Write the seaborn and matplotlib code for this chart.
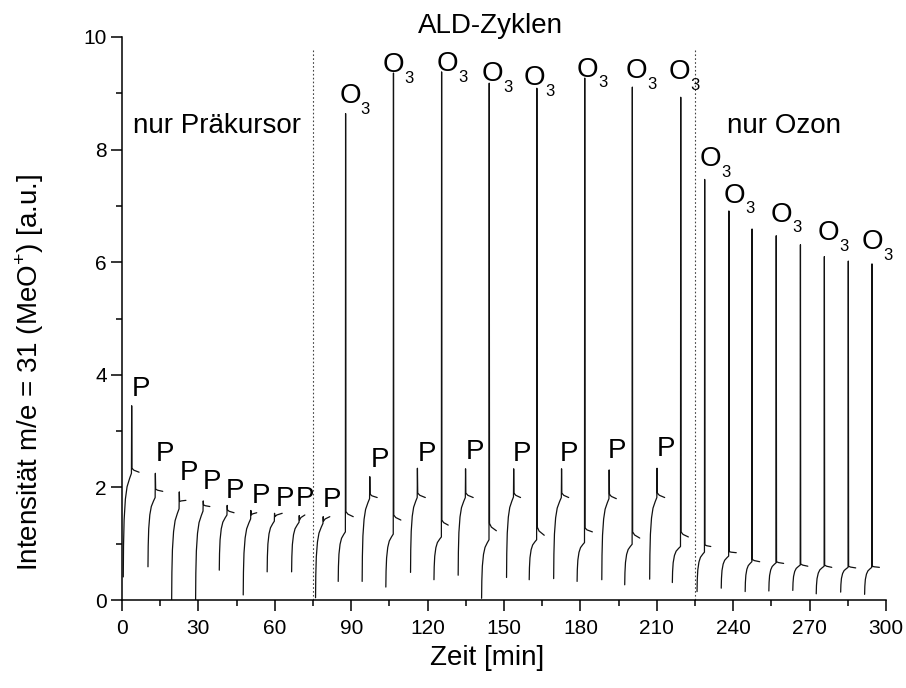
import numpy as np
import pandas as pd
import matplotlib
matplotlib.use("Agg")
import matplotlib.pyplot as plt
import seaborn as sns
from matplotlib.ticker import MultipleLocator

# ---------------- data ----------------
# Precursor pulse segments: start time/value, spike time, base before spike,
# spike peak, level after spike, end time/value  (time in min, intensity in a.u.)
P_T0 = [0.5, 10.2, 19.5, 28.9, 38.2, 47.6, 57.0, 66.6, 76.0, 94.3, 113.3, 132.0, 151.0, 169.5, 188.4, 207.2]
P_V0 = [0.41, 0.59, 0.0, 0.0, 0.53, 0.09, 0.50, 0.50, 0.04, 0.33, 0.49, 0.44, 0.40, 0.38, 0.36, 0.37]
P_TP = [3.8, 13.1, 22.5, 31.9, 41.3, 50.6, 59.9, 69.6, 79.0, 97.3, 116.0, 134.9, 153.8, 172.6, 191.3, 210.1]
P_VB = [2.25, 1.82, 1.62, 1.58, 1.51, 1.44, 1.40, 1.38, 1.36, 1.80, 1.82, 1.82, 1.83, 1.82, 1.80, 1.82]
P_VP = [3.45, 2.25, 1.92, 1.76, 1.68, 1.59, 1.54, 1.50, 1.48, 2.19, 2.34, 2.33, 2.33, 2.33, 2.31, 2.34]
P_VA = [2.34, 1.97, 1.75, 1.69, 1.60, 1.51, 1.48, 1.42, 1.40, 1.88, 1.90, 1.90, 1.90, 1.90, 1.88, 1.90]
P_TE = [6.7, 16.0, 25.1, 34.5, 44.0, 52.9, 62.9, 71.8, 81.6, 100.2, 119.1, 137.9, 156.5, 175.4, 194.1, 213.1]
P_VE = [2.27, 1.93, 1.77, 1.66, 1.55, 1.55, 1.54, 1.51, 1.48, 1.82, 1.82, 1.82, 1.82, 1.82, 1.80, 1.82]

# Ozone pulse segments
O3_T0 = [84.9, 103.6, 122.5, 141.2, 159.9, 178.7, 197.4, 216.1, 225.8, 235.3, 244.7, 254.0, 263.4, 272.6, 282.2, 291.6]
O3_V0 = [0.33, 0.23, 0.36, 0.03, 0.36, 0.33, 0.27, 0.31, 0.15, 0.21, 0.15, 0.16, 0.17, 0.11, 0.14, 0.10]
O3_TP = [87.8, 106.6, 125.5, 144.2, 162.9, 181.7, 200.4, 219.4, 228.8, 238.3, 247.4, 256.9, 266.4, 275.8, 285.2, 294.5]
O3_VB = [1.21, 1.17, 1.12, 1.07, 1.07, 1.02, 0.99, 0.95, 0.85, 0.78, 0.68, 0.66, 0.62, 0.60, 0.58, 0.58]
O3_VP = [8.64, 9.36, 9.38, 9.18, 9.09, 9.27, 9.11, 8.93, 7.47, 6.91, 6.59, 6.47, 6.31, 6.10, 6.02, 5.97]
O3_VA = [1.57, 1.51, 1.42, 1.36, 1.30, 1.28, 1.21, 1.21, 0.98, 0.86, 0.72, 0.68, 0.64, 0.62, 0.60, 0.60]
O3_TE = [90.8, 109.5, 128.1, 147.0, 165.8, 184.7, 203.3, 222.4, 231.2, 241.2, 250.4, 259.8, 269.3, 278.7, 288.1, 297.4]
O3_VE = [1.48, 1.42, 1.33, 1.23, 1.15, 1.21, 1.10, 1.12, 0.95, 0.84, 0.68, 0.65, 0.60, 0.58, 0.57, 0.58]

# Shape of the saturating rise and of the hook after each spike (read from one segment)
RISE_TF = [0.0, 0.03, 0.10, 0.25, 0.45, 0.75, 0.97]
RISE_VF = [0.0, 0.30, 0.55, 0.75, 0.87, 0.95, 1.00]
HOOK_TF = [0.04, 0.30, 1.00]
HOOK_VF = [0.00, 0.50, 1.00]

# Peak labels (left edge, baseline)
P_LABEL_T = [3.8, 13.2, 22.5, 31.7, 40.7, 50.9, 60.3, 68.2, 79.0, 97.7, 116.3, 134.9, 153.3, 171.9, 190.9, 209.9]
P_LABEL_V = [3.63, 2.47, 2.14, 1.97, 1.82, 1.72, 1.67, 1.67, 1.65, 2.36, 2.47, 2.51, 2.47, 2.47, 2.52, 2.56]
O3_LABEL_T = [85.3, 102.3, 123.5, 141.2, 157.8, 178.4, 197.8, 214.7, 226.8, 236.3, 254.6, 273.3, 290.3]
O3_LABEL_V = [8.82, 9.37, 9.39, 9.21, 9.14, 9.29, 9.27, 9.25, 7.70, 7.06, 6.72, 6.39, 6.23]

PHASE_BOUNDS = [75, 225]
PHASE_TEXT = ["nur Präkursor", "ALD-Zyklen", "nur Ozon"]

# ---------------- build long table ----------------
rows = []
seg = 0
for (T0, V0, TP, VB, VP, VA, TE, VE) in [
    (P_T0, P_V0, P_TP, P_VB, P_VP, P_VA, P_TE, P_VE),
    (O3_T0, O3_V0, O3_TP, O3_VB, O3_VP, O3_VA, O3_TE, O3_VE),
]:
    for i in range(len(T0)):
        t0, v0, tp, vb, vp, va, te, ve = T0[i], V0[i], TP[i], VB[i], VP[i], VA[i], TE[i], VE[i]
        ts = [t0 + f * (tp - t0) for f in RISE_TF] + [tp] + [tp + f * (te - tp) for f in HOOK_TF]
        vs = [v0 + f * (vb - v0) for f in RISE_VF] + [vp] + [va + f * (ve - va) for f in HOOK_VF]
        for k, (t, v) in enumerate(zip(ts, vs)):
            rows.append({"t": t, "v": v, "seg": seg, "k": k})
        seg += 1
df = pd.DataFrame(rows)

# ---------------- plot ----------------
sns.set_theme(style="ticks")
FONT = ["Liberation Sans", "DejaVu Sans"]
plt.rcParams["font.family"] = FONT
plt.rcParams["mathtext.fontset"] = "custom"
plt.rcParams["mathtext.rm"] = "Liberation Sans"
for key in ["text.color", "axes.labelcolor", "xtick.color", "ytick.color", "axes.edgecolor"]:
    plt.rcParams[key] = "black"

fig = plt.figure(figsize=(9.06, 6.88), dpi=100)
ax = fig.add_axes([122 / 906, 1 - 600 / 688, 764 / 906, 563 / 688])

sns.lineplot(data=df, x="t", y="v", units="seg", estimator=None, sort=False,
             color="#111111", lw=0.9, ax=ax, legend=False)

for b in PHASE_BOUNDS:
    ax.vlines(b, 0, 9.8, colors="#444444", linestyles=(0, (1.5, 2.0)), lw=0.8)

for t, v in zip(P_LABEL_T, P_LABEL_V):
    ax.text(t, v, "P", fontsize=20, ha="left", va="baseline", color="black")
for t, v in zip(O3_LABEL_T, O3_LABEL_V):
    ax.text(t, v, "O", fontsize=20, ha="left", va="baseline", color="black")
    ax.annotate("3", xy=(t, v), xytext=(15.5, -7.5), textcoords="offset points",
                fontsize=12, ha="left", va="baseline", color="black")

ax.text(4.3, 8.30, PHASE_TEXT[0], fontsize=20, ha="left", va="baseline")
ax.text(144.7, 10.07, PHASE_TEXT[1], fontsize=20, ha="center", va="baseline", clip_on=False)
ax.text(237.5, 8.30, PHASE_TEXT[2], fontsize=20, ha="left", va="baseline")

ax.set_xlim(0, 300)
ax.set_ylim(0, 10)
ax.xaxis.set_major_locator(MultipleLocator(30))
ax.xaxis.set_minor_locator(MultipleLocator(15))
ax.yaxis.set_major_locator(MultipleLocator(2))
ax.yaxis.set_minor_locator(MultipleLocator(1))
ax.tick_params(which="major", direction="out", length=8, width=1.1, labelsize=15, color="black",
               labelcolor="black")
ax.tick_params(which="minor", direction="out", length=4, width=1.1, color="black")
ax.tick_params(axis="x", which="major", pad=6)
ax.tick_params(axis="y", which="major", pad=3)
for s in ["left", "bottom"]:
    ax.spines[s].set_linewidth(1.1)
    ax.spines[s].set_color("black")
sns.despine(ax=ax)

ax.set_xlabel("Zeit [min]", fontsize=20, color="black")
ax.set_ylabel(r"Intensität m/e = 31 (MeO$^{\mathregular{+}}$) [a.u.]", fontsize=20, color="black")
ax.xaxis.set_label_coords(0.478, -0.08)
ax.yaxis.set_label_coords(-0.100, 0.405)

fig.savefig("out.png", dpi=100)
